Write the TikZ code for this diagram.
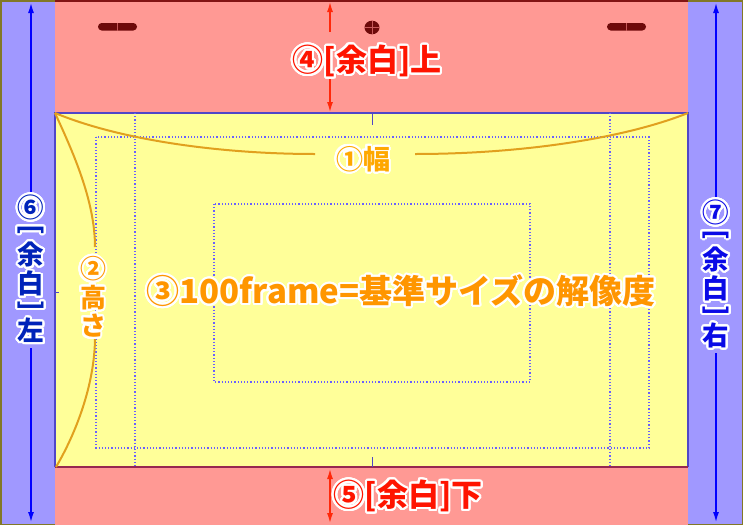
\documentclass[tikz,border=0pt]{standalone}
\usepackage{fontspec}
\setmainfont{Noto Sans CJK JP}
\usepackage[copies]{contour}
\contourlength{2pt}
\contournumber{32}
\usetikzlibrary{arrows.meta}
\definecolor{bluebg}{RGB}{160,152,255}
\definecolor{pinkbg}{RGB}{255,153,148}
\definecolor{yellowbg}{RGB}{255,255,153}
\definecolor{olivec}{RGB}{130,120,40}
\definecolor{darkredc}{RGB}{130,20,20}
\definecolor{dotblue}{RGB}{105,95,255}
\definecolor{framec}{RGB}{80,70,200}
\definecolor{framebot}{RGB}{150,40,80}
\definecolor{curvec}{RGB}{225,160,30}
\definecolor{orangeT}{RGB}{255,150,0}
\definecolor{orangeW}{RGB}{255,168,0}
\definecolor{redT}{RGB}{255,20,0}
\definecolor{navyT}{RGB}{0,35,185}
\definecolor{blueT}{RGB}{10,10,230}
\definecolor{arrowblue}{RGB}{0,0,255}
\definecolor{arrowred}{RGB}{255,40,10}
\definecolor{markred}{RGB}{110,10,10}
\definecolor{markline}{RGB}{200,90,90}
\newcommand\vcell[1]{\hbox to 1em{\hss#1\hss}}
\newcommand\vstk[1]{\vbox{\baselineskip=0pt\lineskip=4pt\lineskiplimit=0pt #1}}
\newcommand\rbrL{\rotatebox[origin=c]{-90}{[}}
\newcommand\rbrR{\rotatebox[origin=c]{-90}{]}}
\begin{document}
\begin{tikzpicture}[x=1pt,y=-1pt,
  lab/.style={inner sep=0pt,font=\bfseries},
  dots/.style={dotblue,line width=1.1pt,dash pattern=on 1.2pt off 2pt},
  brace/.style={curvec,line width=2pt},
  barrow/.style={arrowblue,line width=2pt,{Latex[length=11pt,width=6pt]}-{Latex[length=11pt,width=6pt]}},
  rarrow/.style={arrowred,line width=2pt,-{Latex[length=11pt,width=6pt]}},
  rarrow2/.style={arrowred,line width=2pt,{Latex[length=11pt,width=6pt]}-{Latex[length=11pt,width=6pt]}},
  tick/.style={framec,line width=0.8pt}]
\useasboundingbox (0,0) rectangle (743,525);
% backgrounds
\fill[olivec] (0,0) rectangle (743,525);
\fill[bluebg] (1.5,1.5) rectangle (741.5,523.5);
\fill[pinkbg] (55,0) rectangle (688,525);
\draw[darkredc,line width=2pt] (55,1) -- (688,1);
% frame
\coordinate (tl) at (55,113);
\coordinate (tr) at (688,113);
\coordinate (bl) at (55,467);
\coordinate (br) at (688,467);
\fill[yellowbg] (tl) rectangle (br);
\draw[framec,line width=1.2pt] (bl) -- (tl) -- (tr) -- (br);
\draw[framebot,line width=1.2pt] (bl) -- (br);
% dotted guides
\draw[dots] (135,113) -- (135,467);
\draw[dots] (610,113) -- (610,467);
\draw[dots] (96,137) rectangle (649,448);
\draw[dots] (214,204) rectangle (530,382);
% ticks
\draw[tick] (372,113) -- (372,125);
\draw[tick] (372,457) -- (372,467);
\draw[tick] (55,292) -- (59,292);
% register marks
\fill[markred,rounded corners=3.7pt] (98,23) rectangle (137,30.5);
\draw[markline,line width=0.6pt] (117.5,23) -- (117.5,30.5);
\fill[markred,rounded corners=3.7pt] (607,23) rectangle (646,30.5);
\draw[markline,line width=0.6pt] (626.5,23) -- (626.5,30.5);
\fill[markred] (372,27.5) ellipse (7.5 and 6.8);
\draw[markline,line width=0.6pt] (364.5,27.5) -- (379.5,27.5) (372,20.7) -- (372,34.3);
% braces
\coordinate (w1) at (315,154);
\coordinate (w2) at (415,154);
\coordinate (h1) at (95,247);
\coordinate (h2) at (95,337);
\draw[brace] (tl) .. controls (120,140) and (220,154) .. (w1);
\draw[brace] (w2) .. controls (515,154) and (620,140) .. (tr);
\draw[brace] (tl) .. controls (72,150) and (95,200) .. (h1);
\draw[brace] (h2) .. controls (95,385) and (75,435) .. (56,467);
% arrows
\coordinate (la1) at (31,2);
\coordinate (la2) at (31,523);
\coordinate (ra1) at (716,2);
\coordinate (ra2) at (716,523);
\draw[barrow] (la1) -- (la2);
\draw[barrow] (ra1) -- (ra2);
\coordinate (ta0) at (330,1);
\coordinate (ta1) at (330,32);
\coordinate (ta2) at (330,79);
\coordinate (ta3) at (330,113);
\draw[rarrow] (ta1) -- (ta0);
\draw[rarrow] (ta2) -- (ta3);
\coordinate (ba1) at (330,468);
\coordinate (ba2) at (330,524);
\draw[rarrow2] (ba1) -- (ba2);
% labels
\node[lab,text=orangeW,font=\bfseries\fontsize{27}{29}\selectfont] (wlab) at (363,160) {\contour{white}{①幅}};
\node[lab,text=orangeT,font=\bfseries\fontsize{26}{28}\selectfont] (hlab) at (93,298)
  {\contour{white}{\vstk{\vcell{②}\vcell{高}\vcell{さ}}}};
\node[lab,text=orangeT,font=\bfseries\fontsize{33}{36}\selectfont] (main) at (401,292)
  {\contour{white}{③100frame=基準サイズの解像度}};
\node[lab,text=redT,font=\bfseries\fontsize{31}{33}\selectfont] (top) at (367,62) {\contour{white}{④[余白]上}};
\node[lab,text=redT,font=\bfseries\fontsize{31}{33}\selectfont] (bot) at (408,497) {\contour{white}{⑤[余白]下}};
\node[lab,fill=bluebg,inner ysep=3pt,text=navyT,font=\bfseries\fontsize{26.5}{28}\selectfont] (left) at (31,270)
  {\contour{white}{\vstk{\vcell{⑥}\vcell{\rbrL}\vcell{余}\vcell{白}\vcell{\rbrR}\vcell{左}}}};
\node[lab,fill=bluebg,inner ysep=3pt,text=blueT,font=\bfseries\fontsize{26.5}{28}\selectfont] (right) at (716,275)
  {\contour{white}{\vstk{\vcell{⑦}\vcell{\rbrL}\vcell{余}\vcell{白}\vcell{\rbrR}\vcell{右}}}};
\end{tikzpicture}
\end{document}
